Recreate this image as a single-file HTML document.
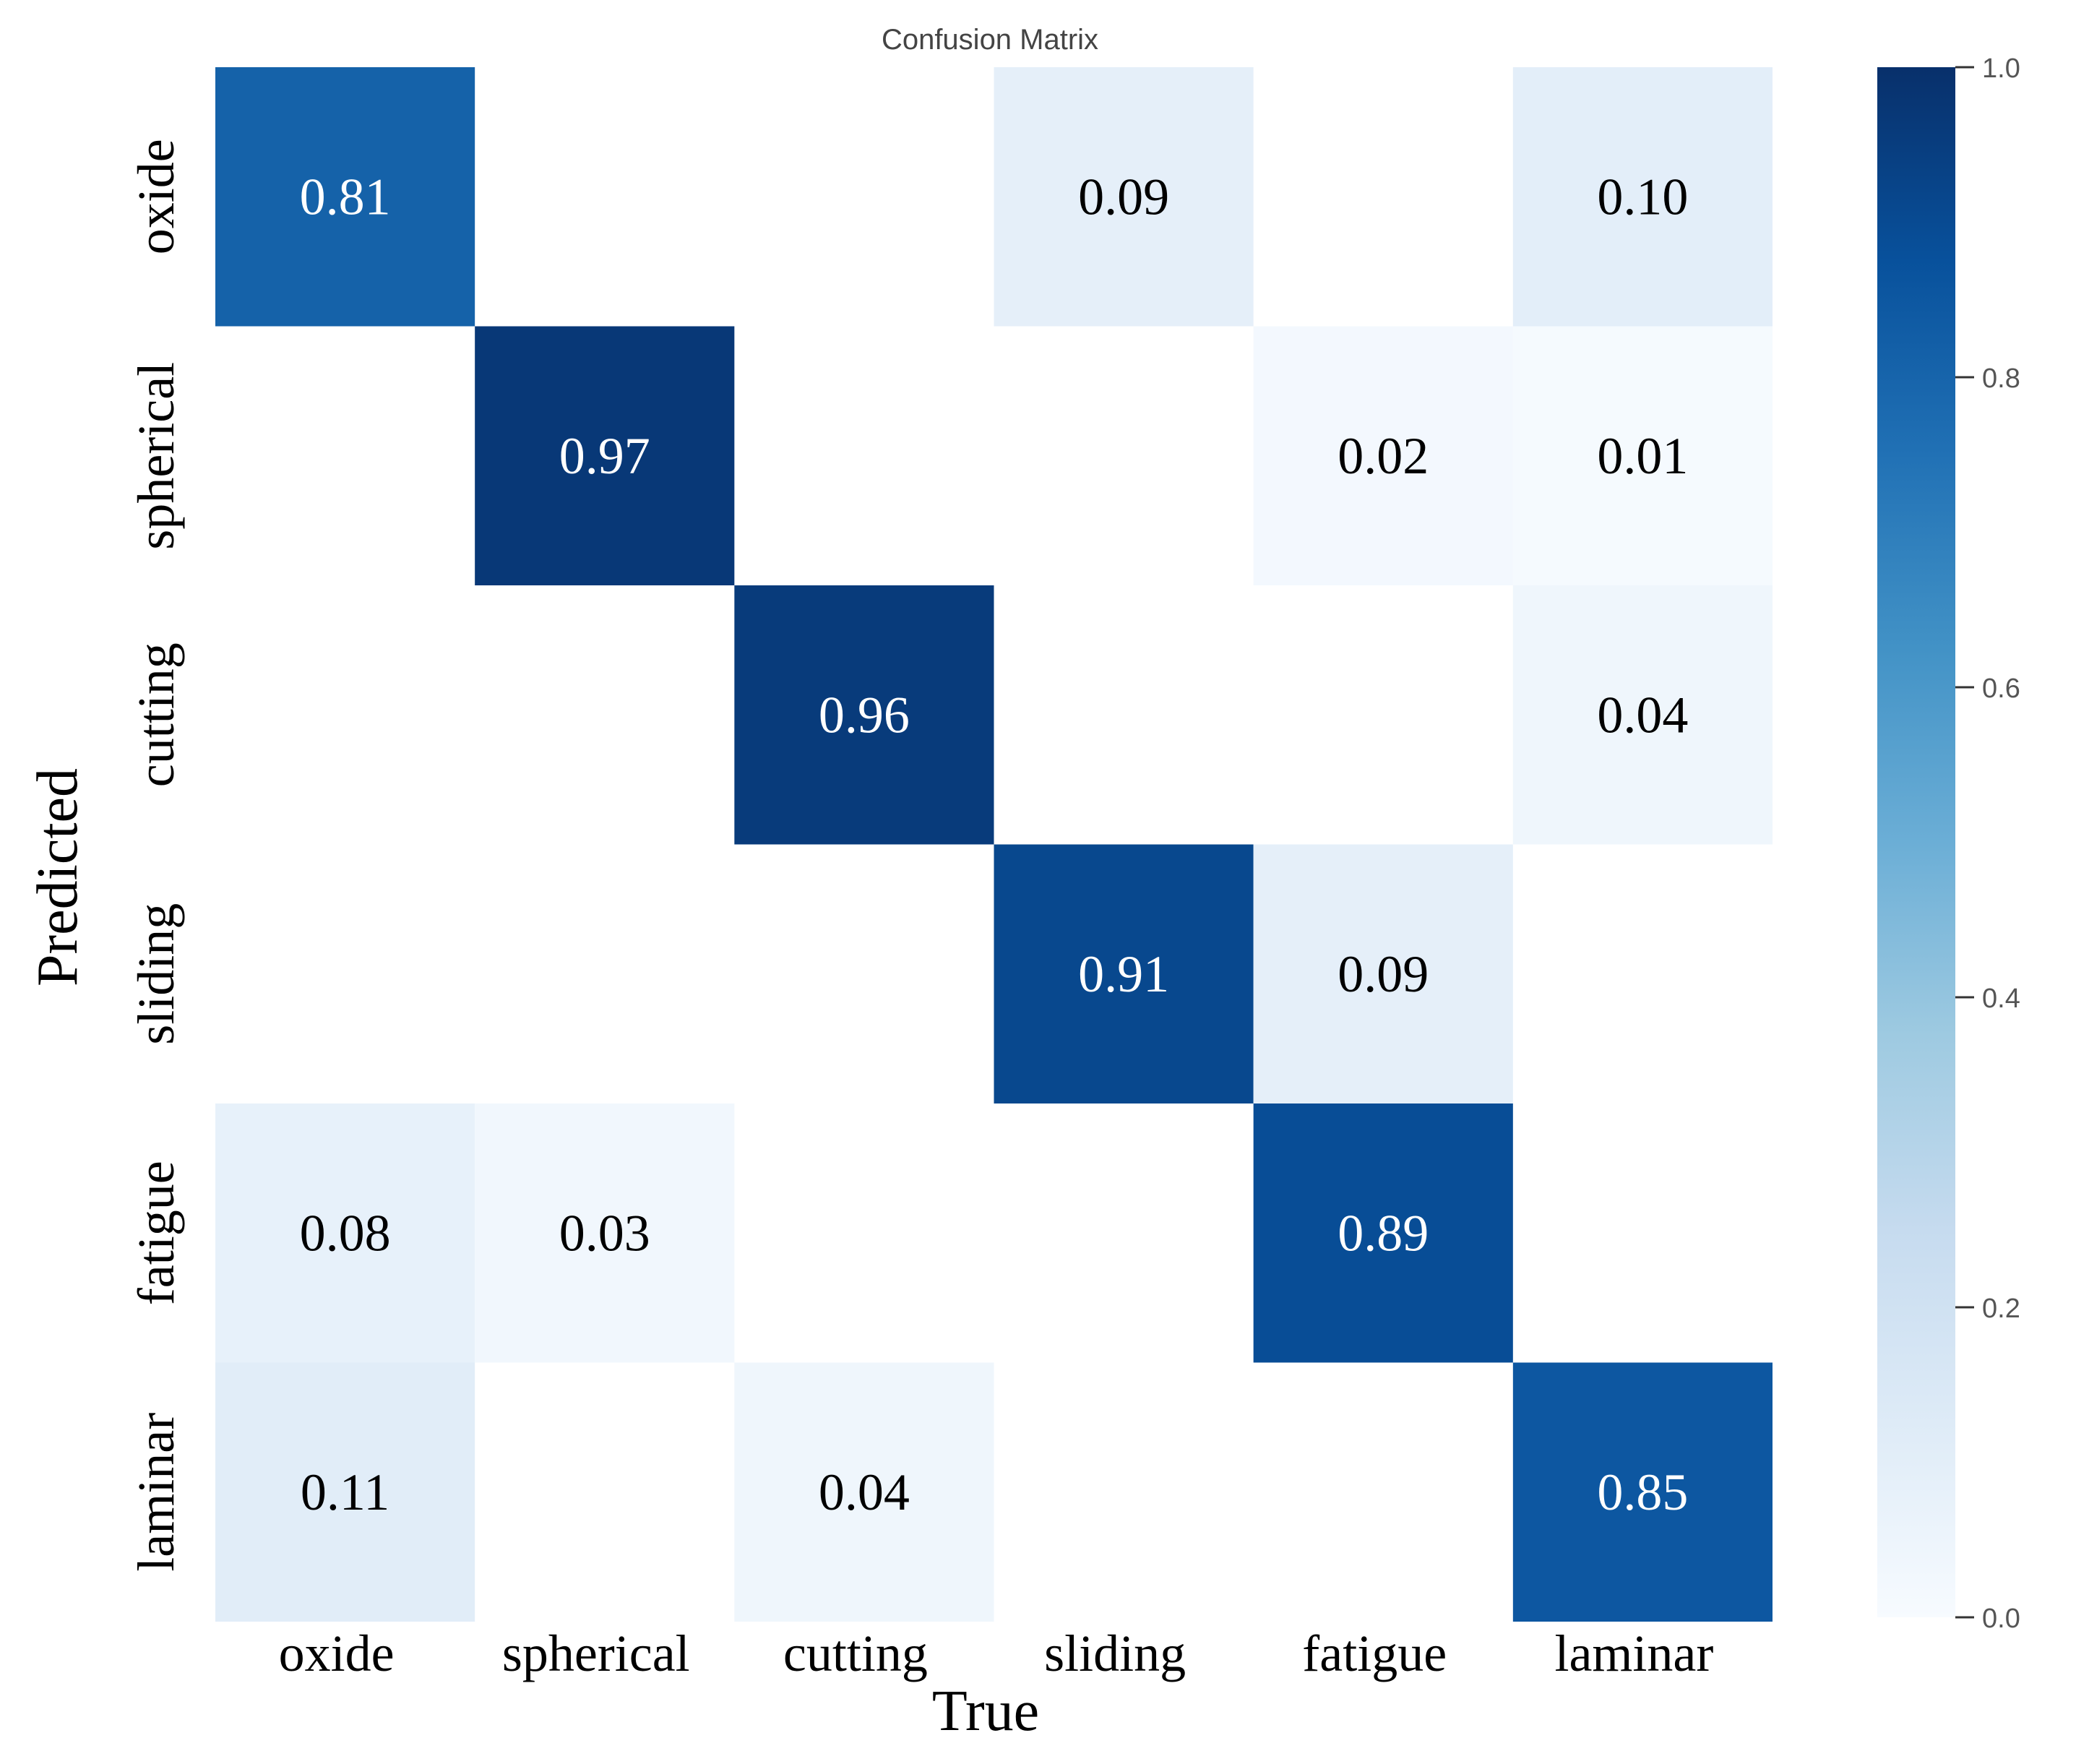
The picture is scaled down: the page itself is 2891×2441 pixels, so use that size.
<!DOCTYPE html>
<html><head><meta charset="utf-8"><style>
html,body{margin:0;padding:0;background:#fff;}
svg{display:block;}
</style></head><body>
<svg id="chart" width="2891" height="2441" viewBox="0 0 2891 2441" xmlns="http://www.w3.org/2000/svg">
<defs>
<linearGradient id="cbgrad" x1="0" y1="1" x2="0" y2="0">
<stop offset="0" stop-color="#f7fbff"/><stop offset="0.125" stop-color="#deebf7"/><stop offset="0.25" stop-color="#c6dbef"/><stop offset="0.375" stop-color="#9ecae1"/><stop offset="0.5" stop-color="#6baed6"/><stop offset="0.625" stop-color="#4292c6"/><stop offset="0.75" stop-color="#2171b5"/><stop offset="0.875" stop-color="#08519c"/><stop offset="1" stop-color="#08306b"/>
</linearGradient>
</defs>
<text x="1370" y="68" text-anchor="middle" font-family="Liberation Sans, sans-serif" font-size="40" fill="#444">Confusion Matrix</text>
<g id="cells"></g>
<g id="xlabels"></g>
<g id="ylabels"></g>
<text x="1364" y="2394" text-anchor="middle" font-family="Liberation Serif, serif" font-size="80" fill="#000">True</text>
<text transform="translate(106,1214) rotate(-90)" text-anchor="middle" font-family="Liberation Serif, serif" font-size="80" fill="#000">Predicted</text>
<rect x="2598" y="93" width="108" height="2145" fill="url(#cbgrad)"/>
<g id="cbticks"></g>
</svg>
<script>
const categories = ["oxide","spherical","cutting","sliding","fatigue","laminar"];
const row_oxide = [0.81,0,0,0.09,0,0.10];
const row_spherical = [0,0.97,0,0,0.02,0.01];
const row_cutting = [0,0,0.96,0,0,0.04];
const row_sliding = [0,0,0,0.91,0.09,0];
const row_fatigue = [0.08,0.03,0,0,0.89,0];
const row_laminar = [0.11,0,0.04,0,0,0.85];
const cbTicks = [0,0.2,0.4,0.6,0.8,1.0];

const matrix = [row_oxide,row_spherical,row_cutting,row_sliding,row_fatigue,row_laminar];
const NS = "http://www.w3.org/2000/svg";
const X0 = 298, X1 = 2453, Y0 = 93, Y1 = 2244;
const n = categories.length;
const cw = (X1 - X0) / n, ch = (Y1 - Y0) / n;
const xPos = i => X0 + i * cw;
const yPos = j => Y0 + j * ch;
const CB0 = 2238, CB1 = 93;
const cbY = v => CB0 + (CB1 - CB0) * v;
const stops = [[0,[247,251,255]],[0.125,[222,235,247]],[0.25,[198,219,239]],[0.375,[158,202,225]],[0.5,[107,174,214]],[0.625,[66,146,198]],[0.75,[33,113,181]],[0.875,[8,81,156]],[1,[8,48,107]]];
function blues(v){
  for(let k=0;k<stops.length-1;k++){
    const [a,ca]=stops[k],[b,cb]=stops[k+1];
    if(v<=b){const t=(v-a)/(b-a);return "rgb("+ca.map((c,i)=>Math.round(c+(cb[i]-c)*t)).join(",")+")";}
  }
  return "rgb(8,48,107)";
}
const cells = document.getElementById("cells");
matrix.forEach((row,j)=>{
  row.forEach((v,i)=>{
    if(v<=0) return;
    const r=document.createElementNS(NS,"rect");
    
    
    r.setAttribute("x",xPos(i));r.setAttribute("y",yPos(j));
    r.setAttribute("width",cw);r.setAttribute("height",ch);
    r.setAttribute("fill",blues(v));
    cells.appendChild(r);
    const t=document.createElementNS(NS,"text");
    
    
    t.setAttribute("x",xPos(i)+cw/2);t.setAttribute("y",yPos(j)+ch/2+24);
    t.setAttribute("text-anchor","middle");
    t.setAttribute("font-family","Liberation Serif, serif");
    t.setAttribute("font-size","72");
    t.setAttribute("fill",v>0.5?"#fff":"#000");
    t.textContent=v.toFixed(2);
    cells.appendChild(t);
  });
});
const xl=document.getElementById("xlabels"), yl=document.getElementById("ylabels");
categories.forEach((c,i)=>{
  const t=document.createElementNS(NS,"text");
  
  
  t.setAttribute("x",xPos(i)+cw/2-12);t.setAttribute("y",2312);
  t.setAttribute("text-anchor","middle");
  t.setAttribute("font-family","Liberation Serif, serif");
  t.setAttribute("font-size","72");
  t.textContent=c; xl.appendChild(t);
  const u=document.createElementNS(NS,"text");
  
  
  u.setAttribute("transform","translate(240,"+(yPos(i)+ch/2)+") rotate(-90)");
  u.setAttribute("text-anchor","middle");
  u.setAttribute("font-family","Liberation Serif, serif");
  u.setAttribute("font-size","72");
  u.textContent=c; yl.appendChild(u);
});
const cbt=document.getElementById("cbticks");
cbTicks.forEach(v=>{
  const l=document.createElementNS(NS,"line");
  
  
  l.setAttribute("x1",2706);l.setAttribute("x2",2732);
  l.setAttribute("y1",cbY(v));l.setAttribute("y2",cbY(v));
  l.setAttribute("stroke","#333");l.setAttribute("stroke-width","3");
  cbt.appendChild(l);
  const t=document.createElementNS(NS,"text");
  
  
  t.setAttribute("x",2743);t.setAttribute("y",cbY(v)+14);
  t.setAttribute("font-family","Liberation Sans, sans-serif");
  t.setAttribute("font-size","38");t.setAttribute("fill","#555");
  t.textContent=v.toFixed(1); cbt.appendChild(t);
});
</script>
</body></html>
